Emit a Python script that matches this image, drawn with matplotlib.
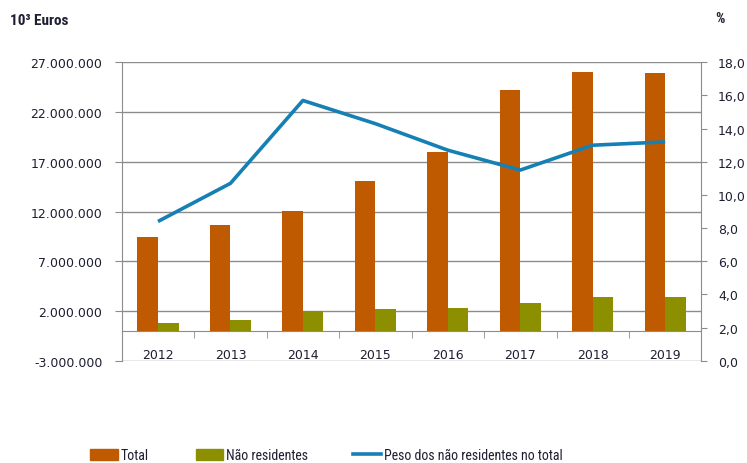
import matplotlib
matplotlib.use("Agg")
import matplotlib.pyplot as plt
import numpy as np
from matplotlib.patches import Patch
from matplotlib.lines import Line2D
from matplotlib import font_manager

# ------------------------------------------------------------
# DATEN
# ------------------------------------------------------------
anos = ["2012", "2013", "2014", "2015", "2016", "2017", "2018", "2019"]
total = [9450000, 10690000, 12030000, 15080000, 17990000, 24220000, 26070000, 25930000]
nao_residentes = [800000, 1080000, 1980000, 2150000, 2250000, 2780000, 3360000, 3360000]
peso = [8.4, 10.7, 15.7, 14.3, 12.7, 11.5, 13.0, 13.2]

left_ticks = [-3000000, 2000000, 7000000, 12000000, 17000000, 22000000, 27000000]
right_ticks = [0, 2, 4, 6, 8, 10, 12, 14, 16, 18]

# ------------------------------------------------------------
# FARBEN / SCHRIFT
# ------------------------------------------------------------
C_TOTAL, C_NAO, C_LINE = "#C05A00", "#8C9000", "#1680B4"
GRID, TEXT = "#8C8C8C", "#1E1E32"

installed = {f.name for f in font_manager.fontManager.ttflist}
NARROW = "DejaVu Sans"
for cand in ["Liberation Sans Narrow", "DejaVu Sans Condensed", "Roboto Condensed", "Open Sans Condensed"]:
    if cand in installed:
        NARROW = cand
        break

fmt_left = lambda v: f"{v:,.0f}".replace(",", ".")
fmt_right = lambda v: f"{v:.1f}".replace(".", ",")

fig = plt.figure(figsize=(7.47, 4.64), dpi=100)
ax = fig.add_axes([0.163, 0.2205, 0.776, 0.643])
ax2 = ax.twinx()

x = np.arange(len(anos))
w = 0.284
ax.bar(x - w / 2, total, width=w, color=C_TOTAL, zorder=3)
ax.bar(x + w / 2, nao_residentes, width=w, color=C_NAO, zorder=3)
ax2.plot(x, peso, color=C_LINE, linewidth=2.6, solid_capstyle="butt")

ax.set_xlim(-0.5, len(anos) - 0.5)
ax.set_ylim(-3000000, 27000000)
ax2.set_ylim(0, 18)

ax.set_yticks(left_ticks)
ax.set_yticklabels([fmt_left(v) for v in left_ticks], fontsize=9, color=TEXT)
ax2.set_yticks(right_ticks)
ax2.set_yticklabels([fmt_right(v) for v in right_ticks], fontsize=9, color=TEXT)
ax.yaxis.grid(True, color=GRID, linewidth=1.0, zorder=0)
ax.set_axisbelow(True)

# Kategorie-Achse bei 0
ax.spines["bottom"].set_position(("data", 0))
ax.spines["bottom"].set_color(GRID)
ax.set_xticks(x)
ax.set_xticklabels(anos, fontsize=9, color=TEXT)
ax.set_xticks(np.arange(len(anos) + 1) - 0.5, minor=True)
ax.tick_params(axis="x", which="major", length=0, pad=12)
ax.tick_params(axis="x", which="minor", length=5, color=GRID, direction="out")
ax.tick_params(axis="y", length=5, color=GRID, pad=9)
ax2.tick_params(axis="y", length=4, color=GRID, pad=8)

for a in (ax, ax2):
    a.spines["top"].set_visible(False)
ax.spines["right"].set_visible(False)
ax2.spines["bottom"].set_visible(False)
ax2.spines["left"].set_visible(False)
ax.spines["left"].set_color(GRID)
ax2.spines["right"].set_color(GRID)

fig.text(0.013, 0.955, "10³ Euros", fontsize=11, fontweight="bold", color=TEXT,
         family=[NARROW, "DejaVu Sans"], va="center")
fig.text(0.958, 0.958, "%", fontsize=10.5, fontweight="bold", color=TEXT,
         family=[NARROW, "DejaVu Sans"], va="center")

# Legende
items = [
    (Patch(color=C_TOTAL), "Total", 0.121),
    (Patch(color=C_NAO), "Não residentes", 0.262),
    (Line2D([], [], color=C_LINE, linewidth=2.6), "Peso dos não residentes no total", 0.473),
]
for h, lab, xpos in items:
    fig.legend([h], [lab], loc="center left", bbox_to_anchor=(xpos, 0.017), frameon=False,
               borderpad=0, borderaxespad=0, handlelength=2.0, handleheight=0.9, handletextpad=0.2,
               prop={"family": [NARROW, "DejaVu Sans"], "size": 10}, labelcolor=TEXT)

fig.savefig("out.png", dpi=100)
